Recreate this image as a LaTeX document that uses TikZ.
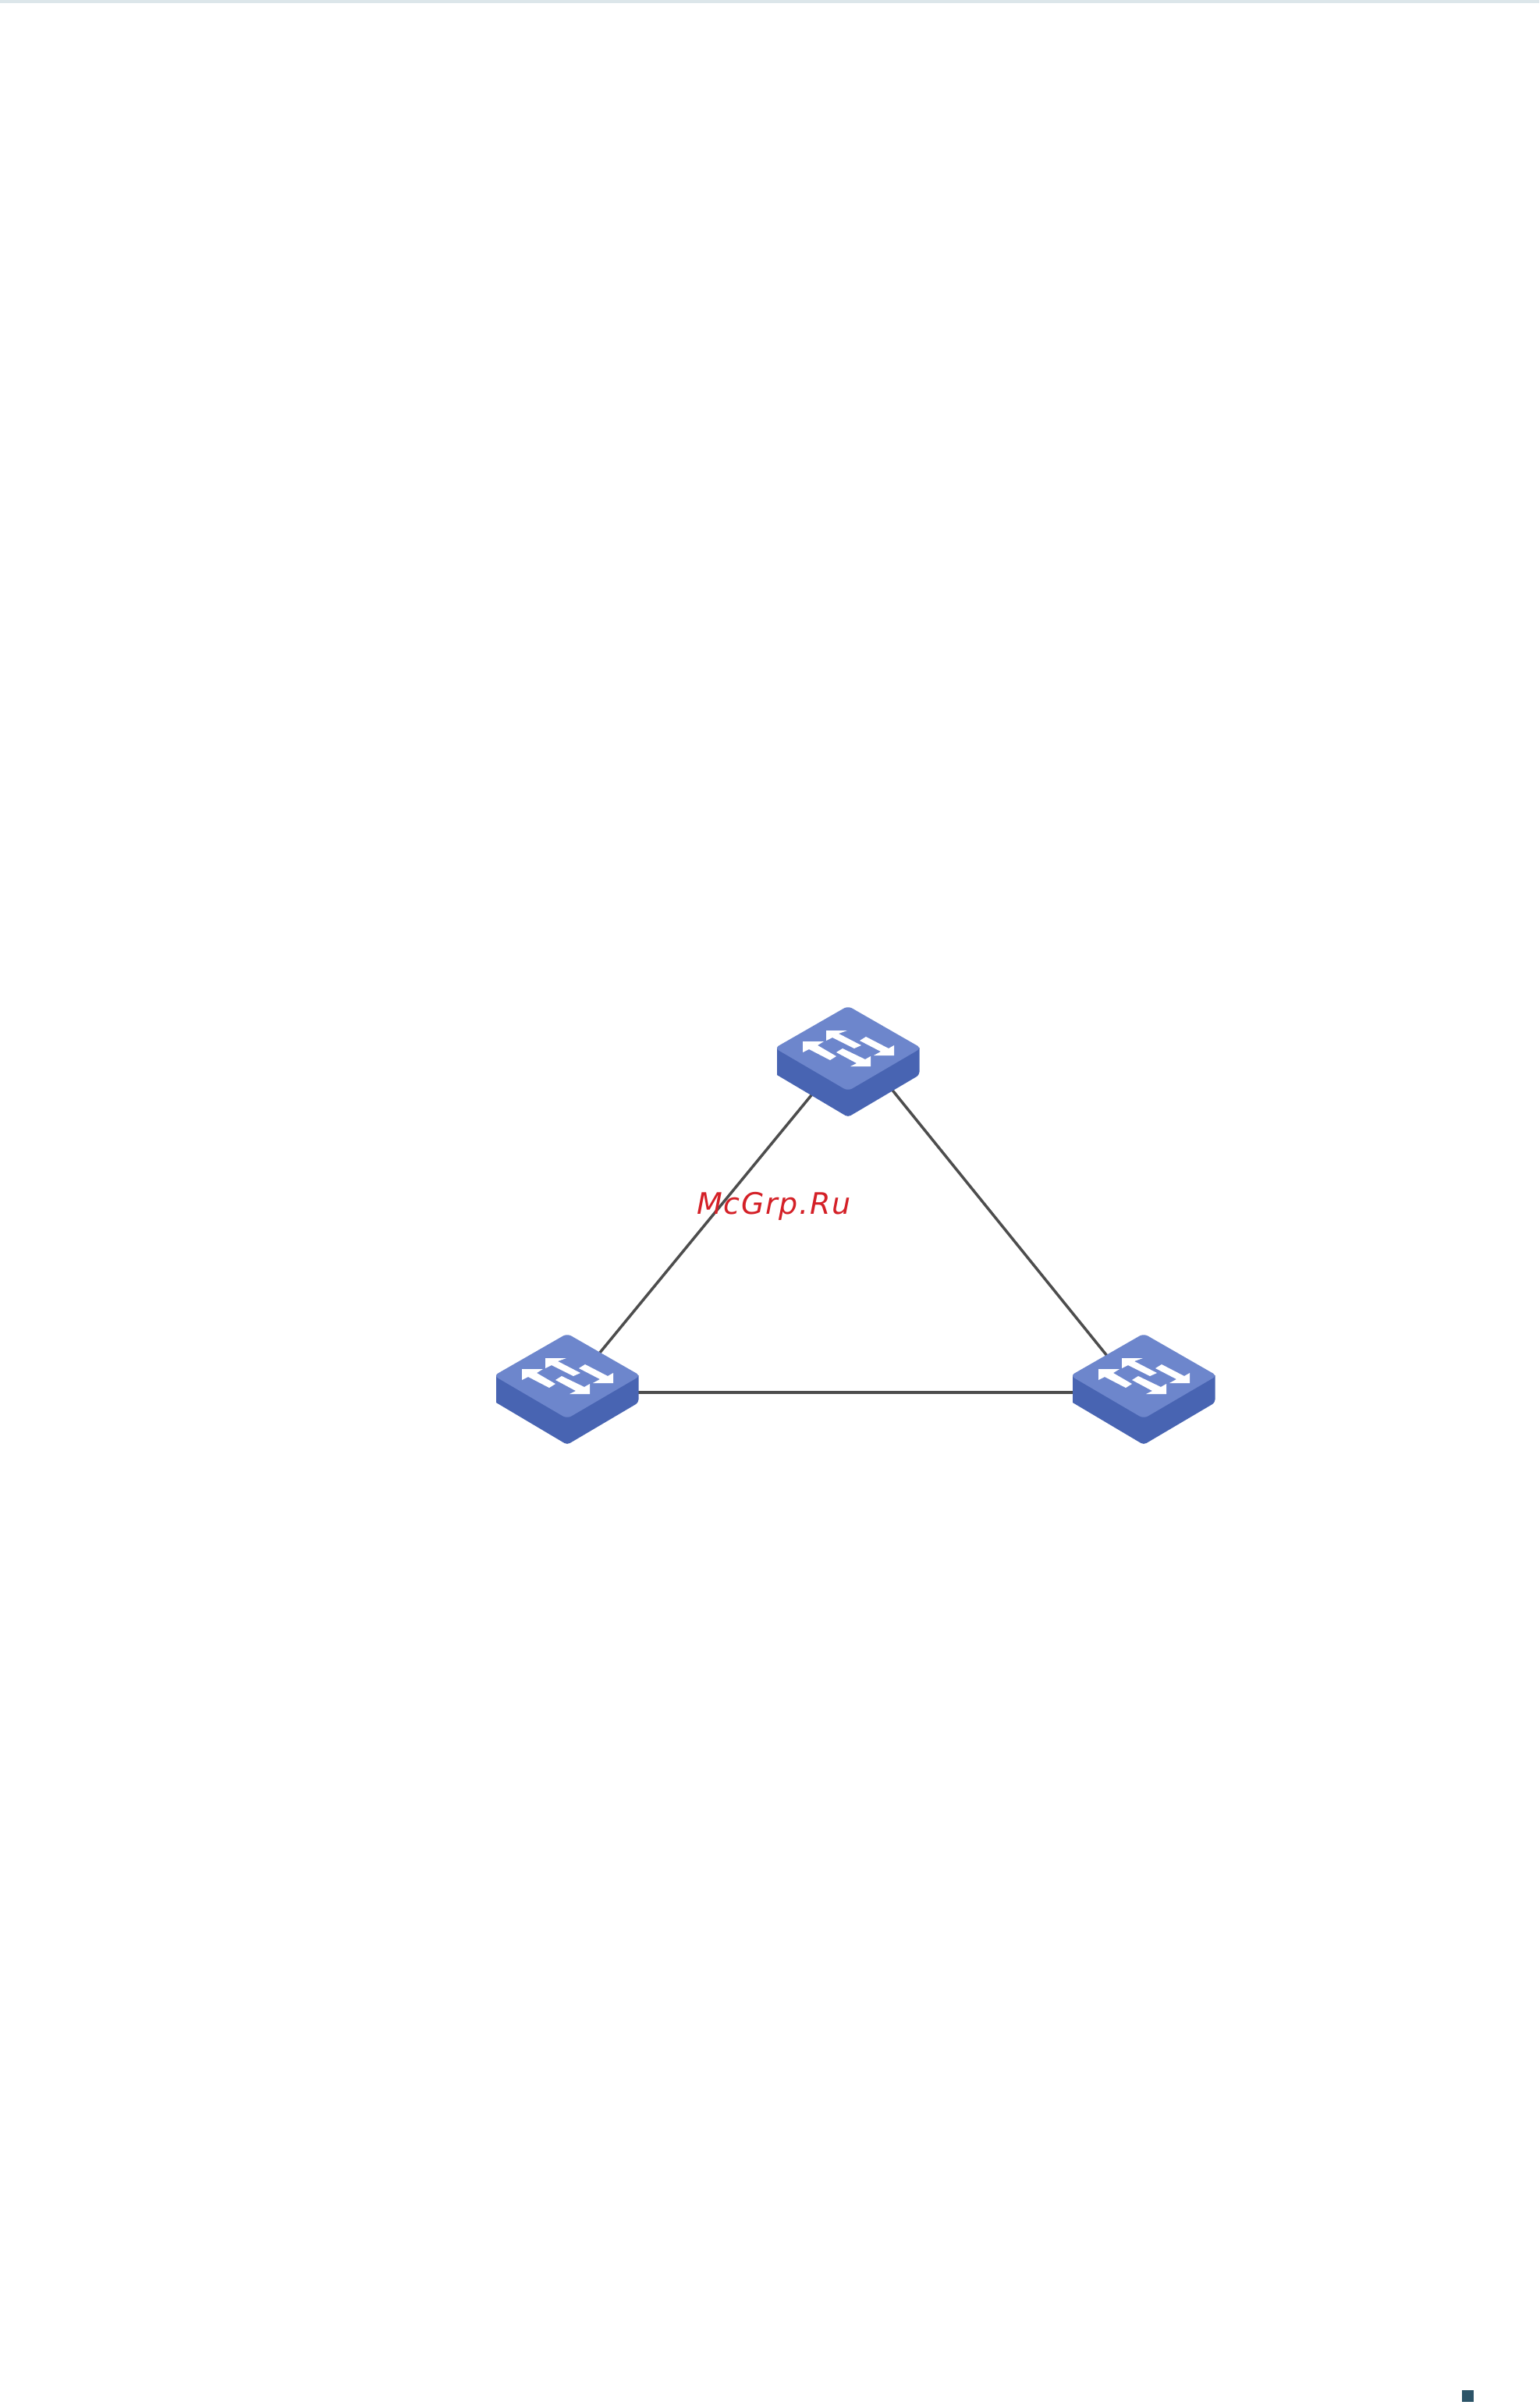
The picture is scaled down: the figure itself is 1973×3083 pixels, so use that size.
\documentclass[tikz,border=0pt]{standalone}
\usepackage{fontspec}
\usepackage{xcolor}
\newfontfamily\markfont[LetterSpace=4.5]{DejaVu Sans}
\definecolor{swtop}{HTML}{6D86CC}
\definecolor{swside}{HTML}{4864B2}
\definecolor{linkgray}{HTML}{4D4D4D}
\definecolor{markred}{HTML}{D42027}
\definecolor{band}{HTML}{DCE6EA}
\definecolor{corner}{HTML}{2C5468}
\tikzset{
  link/.style={draw=linkgray, line width=3.5pt},
  port/.style={inner sep=0pt, minimum size=0pt},
  wmark/.style={text=markred, inner sep=0pt, font=\markfont\itshape\fontsize{38}{40}\selectfont},
  swarrow/.style={fill=white, draw=none},
  switch/.pic={
    \fill[swside, rounded corners=4pt] (-91,87) -- (0,141) -- (91.5,87) [sharp corners] -- (91.5,52) -- (-91,52) -- cycle;
    \fill[swtop, rounded corners=6pt] (0,-1.5) -- (94,52.5) -- (0,107.5) -- (-94,52.5) -- cycle;
    \fill[swarrow] (-1,30) -- (-28,30) -- (-28,43) -- (-20,39) -- (8,53) -- (17,49) -- (-12,34) -- cycle;
    \fill[swarrow] (-58,44) -- (-31,44) -- (-39,49) -- (-15,63) -- (-23,68) -- (-50,54) -- (-58,58) -- cycle;
    \fill[swarrow] (23,38) -- (52,53) -- (59,49) -- (59,62) -- (33,62) -- (42,57) -- (15,43) -- cycle;
    \fill[swarrow] (-15,58) -- (-7,53) -- (22,67) -- (29,63) -- (29,76) -- (3,76) -- (11,72) -- cycle;
  },
}
\begin{document}
\begin{tikzpicture}[x=1pt,y=-1pt]
  \useasboundingbox (0,0) rectangle (1973,3083);
  \fill[white] (0,0) rectangle (1973,3083);
  \fill[band] (0,0) rectangle (1973,4);
  \fill[corner] (1874,3064) rectangle (1889,3079);

  \node[port] (swTop) at (1095,1337) {};
  \node[port] (swLeft) at (727,1785) {};
  \node[port] (swRight) at (1457,1785) {};

  \draw[link] (swTop) -- (swLeft);
  \draw[link] (swTop) -- (swRight);
  \draw[link] (swLeft) -- (swRight);

  \pic at (1087,1291) {switch};
  \pic at (727,1711) {switch};
  \pic at (1466,1711) {switch};

  \node[wmark, anchor=base west] (mcgrp) at (893,1556) {McGrp.Ru};
\end{tikzpicture}
\end{document}
